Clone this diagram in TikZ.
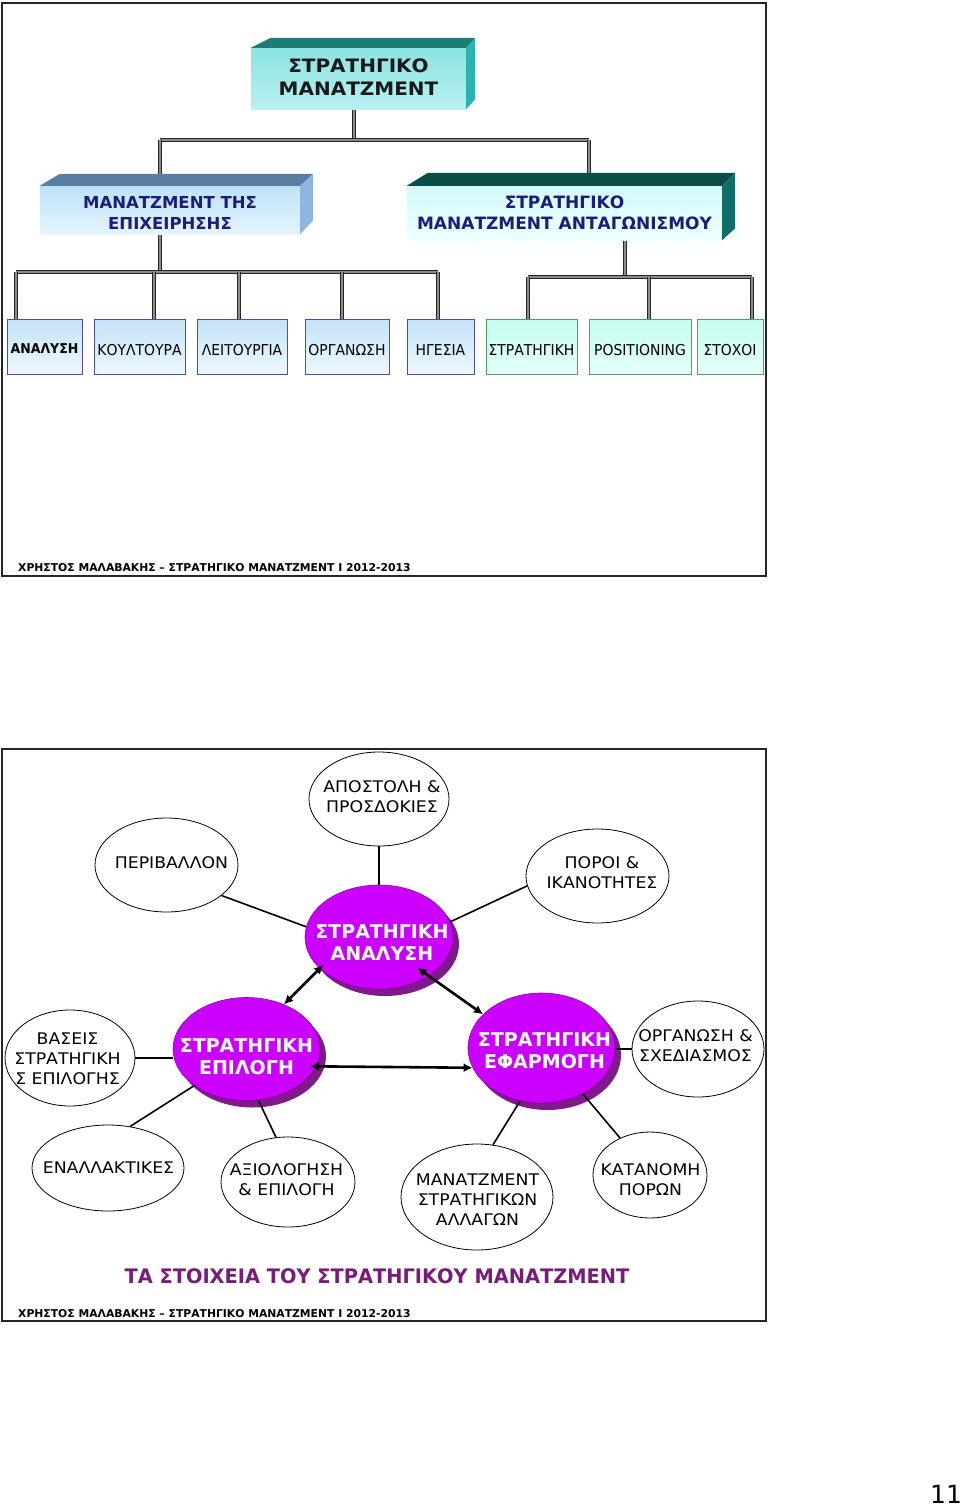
\documentclass[tikz,border=0pt]{standalone}
\usepackage{fontspec}
\setmainfont{DejaVu Sans}
\newfontfamily\widefont{DejaVu Sans}[FakeStretch=1.08]
\newfontfamily\narrowfont{DejaVu Sans}[FakeStretch=0.93]
\newfontfamily\tfont{DejaVu Sans}[FakeStretch=0.97]
\usetikzlibrary{shapes.geometric,arrows.meta,calc,shadows}
\definecolor{tealtop}{HTML}{1E7B78}
\definecolor{tealside}{HTML}{2BB3B0}
\definecolor{tealfa}{HTML}{8DE3E3}
\definecolor{tealfb}{HTML}{B8F0F0}
\definecolor{bluetop}{HTML}{5B7FA3}
\definecolor{blueside}{HTML}{8DB6E2}
\definecolor{bluefa}{HTML}{BDE2F8}
\definecolor{bluefb}{HTML}{E6F5FD}
\definecolor{dtealtop}{HTML}{0B4D48}
\definecolor{dtealside}{HTML}{0F6E69}
\definecolor{cyanfa}{HTML}{D3F9F9}
\definecolor{cyanfb}{HTML}{EEFFFF}
\definecolor{navy}{HTML}{1C1C7C}
\definecolor{sbord}{HTML}{4B4BB3}
\definecolor{sfa}{HTML}{C2E3F8}
\definecolor{sfb}{HTML}{EEF8FE}
\definecolor{gbord}{HTML}{4CA060}
\definecolor{gfa}{HTML}{C6FCEF}
\definecolor{gfb}{HTML}{E4FFF9}
\definecolor{purp}{HTML}{CC00FF}
\definecolor{purpdark}{HTML}{7E1A8A}
\definecolor{purpedge}{HTML}{9000AA}
\definecolor{titlep}{HTML}{7A1A7A}
\pgfdeclarelayer{bg}
\pgfsetlayers{bg,main}
\tikzset{
  frame/.style={draw=black!85, line width=2pt},
  bus/.style={draw=black!85, line width=1pt, double=black!45, double distance=1.4pt},
  bigbox/.style={rectangle, inner sep=0pt},
  bigtext/.style={inner sep=0pt, align=center, font=\fontsize{16.5}{21}\selectfont\bfseries, text=navy},
  smallbox/.style={rectangle, draw=sbord, line width=0.8pt, top color=sfa, bottom color=sfb, minimum height=55pt, inner sep=0pt},
  greenbox/.style={smallbox, draw=gbord, top color=gfa, bottom color=gfb},
  stext/.style={inner sep=0pt, font=\fontsize{15}{17}\narrowfont},
  wcirc/.style={ellipse, draw=black, line width=0.8pt, fill=white, inner sep=0pt},
  wtext/.style={inner sep=0pt, align=center, font=\fontsize{16}{20}\widefont},
  pcirc/.style={ellipse, draw=purpedge, line width=0.6pt, fill=purp, inner sep=0pt,
     drop shadow={opacity=1, fill=purpdark, shadow xshift=6pt, shadow yshift=-7pt}},
  ptext/.style={inner sep=0pt, align=center, text=white, font=\fontsize{19}{22.5}\selectfont\bfseries},
  conn/.style={draw=black, line width=1.6pt},
  biarrow/.style={draw=black, line width=2.6pt, {Latex[length=9pt,width=9pt]}-{Latex[length=9pt,width=9pt]}},
  footer/.style={anchor=west, inner sep=0pt, font=\fontsize{10.8}{13}\selectfont\bfseries},
}
\begin{document}
\begin{tikzpicture}[x=1pt,y=-1pt]
\useasboundingbox (0,0) rectangle (960,1507);

% ================= slide 1 =================
\draw[frame] (2,3) rectangle (766,576);

% top box
\node[bigbox, minimum width=215pt, minimum height=61pt, top color=tealfa, bottom color=tealfb] (sm) at (358.5,78.5) {};
\node[bigtext, text=black!90, font=\fontsize{18.5}{22.5}\widefont\bfseries] (smT) at (358.5,77) {ΣΤΡΑΤΗΓΙΚΟ\\ΜΑΝΑΤΖΜΕΝΤ};
\fill[tealtop] (sm.north west) -- ++(20,-10) -- ($(sm.north east)+(9,-10)$) -- (sm.north east) -- cycle;
\fill[tealside] (sm.north east) -- ++(9,-10) -- ($(sm.south east)+(9,-10)$) -- (sm.south east) -- cycle;

% left box
\node[bigbox, minimum width=260pt, minimum height=48pt, top color=bluefa, bottom color=bluefb] (lb) at (170,210) {};
\node[bigtext] (lbT) at (170,212.5) {ΜΑΝΑΤΖΜΕΝΤ ΤΗΣ\\ΕΠΙΧΕΙΡΗΣΗΣ};
\fill[bluetop] (lb.north west) -- ++(20,-12) -- ($(lb.north east)+(13,-12)$) -- (lb.north east) -- cycle;
\fill[blueside] (lb.north east) -- ++(13,-12) -- ($(lb.south east)+(13,-14)$) -- (lb.south east) -- cycle;

% right box
\node[bigbox, minimum width=315pt, minimum height=54pt, top color=cyanfa, bottom color=cyanfb] (rb) at (564.5,213) {};
\node[bigtext, font=\fontsize{17}{21}\selectfont\bfseries] (rbT) at (564.5,212.5) {ΣΤΡΑΤΗΓΙΚΟ\\ΜΑΝΑΤΖΜΕΝΤ ΑΝΤΑΓΩΝΙΣΜΟΥ};
\fill[dtealtop] (rb.north west) -- ++(21,-13) -- ($(rb.north east)+(13,-13)$) -- (rb.north east) -- cycle;
\fill[dtealside] (rb.north east) -- ++(13,-13) -- ($(rb.south east)+(13,-12)$) -- (rb.south east) -- cycle;

% small boxes
\node[smallbox, minimum width=75pt] (b1) at (44.5,346.5) {};
\node[smallbox, minimum width=91pt] (b2) at (139.5,346.5) {};
\node[smallbox, minimum width=90pt] (b3) at (242,346.5) {};
\node[smallbox, minimum width=84pt] (b4) at (347,346.5) {};
\node[smallbox, minimum width=67pt] (b5) at (440.5,346.5) {};
\node[greenbox, minimum width=91pt] (g1) at (531.5,346.5) {};
\node[greenbox, minimum width=102pt] (g2) at (640,346.5) {};
\node[greenbox, minimum width=66pt] (g3) at (730,346.5) {};
\node[stext, font=\fontsize{13.5}{16}\narrowfont\bfseries] at (44.5,349) {ΑΝΑΛΥΣΗ};
\node[stext] at (139.5,350) {ΚΟΥΛΤΟΥΡΑ};
\node[stext] at (242,350) {ΛΕΙΤΟΥΡΓΙΑ};
\node[stext] at (347,350) {ΟΡΓΑΝΩΣΗ};
\node[stext] at (440.5,350) {ΗΓΕΣΙΑ};
\node[stext] at (531.5,350) {ΣΤΡΑΤΗΓΙΚΗ};
\node[stext] at (640,350) {POSITIONING};
\node[stext] at (730,350) {ΣΤΟΧΟΙ};

% bus coordinates
\coordinate (j1) at (354,140);
\coordinate (j1l) at (160,140);
\coordinate (j1r) at (589,140);
\coordinate (j2) at (160,272);
\coordinate (h1) at (16,272);
\coordinate (h2) at (154,272);
\coordinate (h3) at (239,272);
\coordinate (h4) at (342,272);
\coordinate (h5) at (438,272);
\coordinate (j3) at (625,277);
\coordinate (k1) at (528,277);
\coordinate (k2) at (649,277);
\coordinate (k3) at (752,277);

\begin{pgfonlayer}{bg}
\draw[bus] (j1 |- sm.south) -- (j1);
\draw[bus] (j1l) -- (j1r);
\draw[bus] (j1l) -- (j1l |- lb.north);
\draw[bus] (j1r) -- (j1r |- rb.north);
\draw[bus] (j2 |- lb.south) -- (j2);
\draw[bus] (h1) -- (h5);
\draw[bus] (h1) -- (h1 |- b1.north);
\draw[bus] (h2) -- (h2 |- b2.north);
\draw[bus] (h3) -- (h3 |- b3.north);
\draw[bus] (h4) -- (h4 |- b4.north);
\draw[bus] (h5) -- (h5 |- b5.north);
\draw[bus] (j3 |- rb.south) -- (j3);
\draw[bus] (k1) -- (k3);
\draw[bus] (k1) -- (k1 |- g1.north);
\draw[bus] (k2) -- (k2 |- g2.north);
\draw[bus] (k3) -- (k3 |- g3.north);
\end{pgfonlayer}

\node[footer] (f1) at (18,568) {ΧΡΗΣΤΟΣ ΜΑΛΑΒΑΚΗΣ – ΣΤΡΑΤΗΓΙΚΟ ΜΑΝΑΤΖΜΕΝΤ Ι 2012-2013};

% ================= slide 2 =================
\draw[frame] (2,749) rectangle (766,1321);

\node[wcirc, minimum width=140pt, minimum height=94pt] (apo) at (379,799) {};
\node[wcirc, minimum width=143pt, minimum height=94pt] (per) at (166.5,865) {};
\node[wcirc, minimum width=143pt, minimum height=94pt] (por) at (597.5,876) {};
\node[wcirc, minimum width=130pt, minimum height=96pt] (bas) at (70,1058) {};
\node[wcirc, minimum width=132pt, minimum height=96pt] (org) at (698,1049) {};
\node[wcirc, minimum width=152pt, minimum height=86pt] (ena) at (108,1168) {};
\node[wcirc, minimum width=134pt, minimum height=90pt] (axi) at (288,1182) {};
\node[wcirc, minimum width=152pt, minimum height=106pt] (man) at (477,1197) {};
\node[wcirc, minimum width=114pt, minimum height=86pt] (kat) at (650,1175) {};

\node[wtext] at (382,797) {ΑΠΟΣΤΟΛΗ \&\\ΠΡΟΣΔΟΚΙΕΣ};
\node[wtext] at (171.5,863) {ΠΕΡΙΒΑΛΛΟΝ};
\node[wtext] at (602,873) {ΠΟΡΟΙ \&\\ΙΚΑΝΟΤΗΤΕΣ};
\node[wtext] at (67.5,1058.5) {ΒΑΣΕΙΣ\\ΣΤΡΑΤΗΓΙΚΗ\\Σ ΕΠΙΛΟΓΗΣ};
\node[wtext] at (695.5,1045.5) {ΟΡΓΑΝΩΣΗ \&\\ΣΧΕΔΙΑΣΜΟΣ};
\node[wtext] at (108.5,1168) {ΕΝΑΛΛΑΚΤΙΚΕΣ};
\node[wtext] at (286.5,1179.5) {ΑΞΙΟΛΟΓΗΣΗ\\\& ΕΠΙΛΟΓΗ};
\node[wtext] at (477.5,1199.5) {ΜΑΝΑΤΖΜΕΝΤ\\ΣΤΡΑΤΗΓΙΚΩΝ\\ΑΛΛΑΓΩΝ};
\node[wtext] at (650.5,1179.5) {ΚΑΤΑΝΟΜΗ\\ΠΟΡΩΝ};

\node[pcirc, minimum width=148pt, minimum height=104pt] (an) at (379,937) {};
\node[pcirc, minimum width=147pt, minimum height=103pt] (epi) at (246.5,1049) {};
\node[pcirc, minimum width=147pt, minimum height=110pt] (efa) at (541.5,1048) {};
\node[ptext] at (382,942.5) {ΣΤΡΑΤΗΓΙΚΗ\\ΑΝΑΛΥΣΗ};
\node[ptext] at (246.5,1056.5) {ΣΤΡΑΤΗΓΙΚΗ\\ΕΠΙΛΟΓΗ};
\node[ptext] at (544.5,1050.5) {ΣΤΡΑΤΗΓΙΚΗ\\ΕΦΑΡΜΟΓΗ};

\draw[conn] (apo.south) -- (an.north);
\draw[conn] (per.-29) -- (an.172);
\draw[conn] (por.188) -- (an.12);
\draw[conn] (bas.east) -- (bas.east -| epi.west);
\draw[conn] (efa.east |- org.west) -- (org.west);
\draw[conn] (ena.62) -- (epi.215);
\draw[conn] (axi.105) -- (epi.283);
\draw[conn] (man.73) -- (efa.248);
\draw[conn] (kat.129) -- (efa.312);

\draw[biarrow, shorten <=-5pt] (an.208) -- (epi.50);
\draw[biarrow, shorten <=-14pt] (an.322) -- (efa.150);
\draw[biarrow, shorten <=-6pt] (epi.-14) -- (efa.196);

\node[font=\fontsize{20}{24}\tfont\bfseries, text=titlep] (title) at (377,1276) {ΤΑ ΣΤΟΙΧΕΙΑ ΤΟΥ ΣΤΡΑΤΗΓΙΚΟΥ ΜΑΝΑΤΖΜΕΝΤ};
\node[footer] (f2) at (18,1314) {ΧΡΗΣΤΟΣ ΜΑΛΑΒΑΚΗΣ – ΣΤΡΑΤΗΓΙΚΟ ΜΑΝΑΤΖΜΕΝΤ Ι 2012-2013};

\node[font=\fontsize{25}{28}\selectfont, inner sep=0pt] (pg) at (946,1494) {11};
\end{tikzpicture}
\end{document}
